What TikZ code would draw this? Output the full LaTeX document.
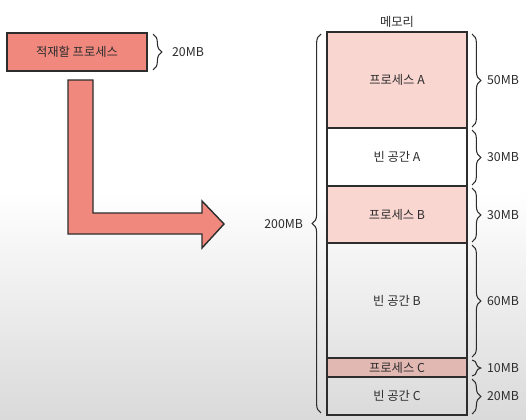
\documentclass[tikz,border=0pt]{standalone}
\usepackage{fontspec}
\setmainfont{Noto Sans CJK KR}
\usetikzlibrary{decorations.pathreplacing}
\definecolor{salmon}{RGB}{240,136,126}
\definecolor{pinkseg}{RGB}{250,214,209}
\definecolor{pinkdark}{RGB}{226,184,178}
\definecolor{bggray}{RGB}{218,218,218}
\definecolor{ink}{RGB}{45,45,45}
\begin{document}
\begin{tikzpicture}[x=0.02cm,y=-0.02cm,
  seg/.style={draw=ink,line width=0.8pt},
  brc/.style={draw=ink,line width=0.6pt,decorate,decoration={brace,amplitude=5pt}},
  lbl/.style={font=\fontsize{7}{8}\selectfont,text=ink,inner sep=1pt}]
\useasboundingbox (0,0) rectangle (526,419);
% background
\fill[white] (0,0) rectangle (526,190);
\shade[top color=white,bottom color=bggray] (0,190) rectangle (526,419);
% process to load
\draw[seg,fill=salmon] (7,33) rectangle (147,71) node[midway,lbl] (job) {적재할 프로세스};
\draw[brc] (153,34) -- (153,70);
\node[lbl,anchor=west] (jobsize) at (170,52) {20MB};
% arrow
\draw[seg,fill=salmon] (68,80)--(93,80)--(93,213)--(202,213)--(202,201)--(224,224)--(202,248)--(202,234)--(68,234)--cycle;
% memory
\node[lbl] (mem) at (397,22) {메모리};
\draw[seg,fill=pinkseg] (327,32) rectangle (467,128) node[midway,lbl] (pa) {프로세스 A};
\draw[seg] (327,128) rectangle (467,186) node[midway,lbl] (ea) {빈 공간 A};
\draw[seg,fill=pinkseg] (327,186) rectangle (467,243) node[midway,lbl] (pb) {프로세스 B};
\draw[seg] (327,243) rectangle (467,358) node[midway,lbl] (eb) {빈 공간 B};
\draw[seg,fill=pinkdark] (327,358) rectangle (467,377) node[midway,lbl] (pc) {프로세스 C};
\draw[seg] (327,377) rectangle (467,415) node[midway,lbl] (ec) {빈 공간 C};
% sizes
\draw[brc] (321,413) -- (321,34);
\node[lbl,anchor=east] (total) at (305,224) {200MB};
\draw[brc] (472,34) -- (472,127);
\node[lbl,anchor=west] (sa) at (485,80) {50MB};
\draw[brc] (472,130) -- (472,185);
\node[lbl,anchor=west] (sb) at (485,157) {30MB};
\draw[brc] (472,188) -- (472,242);
\node[lbl,anchor=west] (sc) at (485,215) {30MB};
\draw[brc] (472,245) -- (472,357);
\node[lbl,anchor=west] (sd) at (485,301) {60MB};
\draw[brc] (472,360) -- (472,376);
\node[lbl,anchor=west] (se) at (485,368) {10MB};
\draw[brc] (472,379) -- (472,414);
\node[lbl,anchor=west] (sf) at (485,396) {20MB};
\end{tikzpicture}
\end{document}
